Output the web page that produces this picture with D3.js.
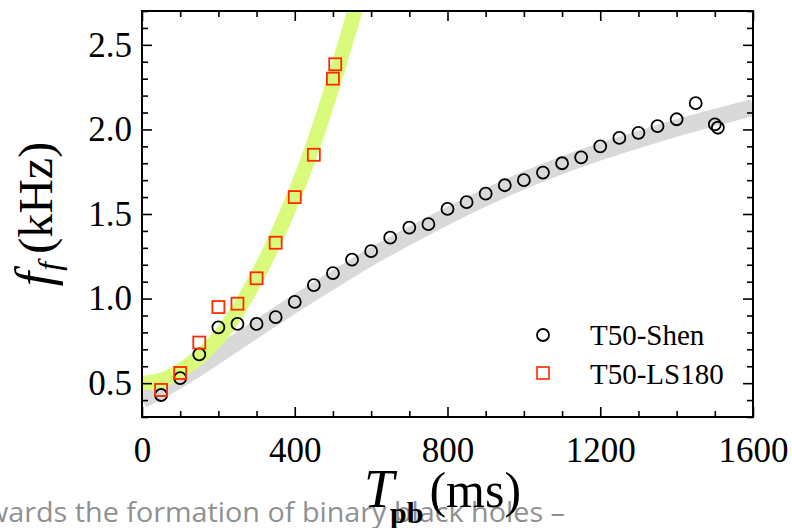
<!DOCTYPE html>
<meta charset="utf-8">
<script src="https://d3js.org/d3.v7.min.js"></script>
<style>
  body { margin: 0; background: #fff; }
  svg { display: block; }
</style>
<body>
<div id="my_dataviz"></div>
<script>

// T50-Shen (circles): post-bounce time (ms) and f_f (kHz)
var shenT = [50, 100, 150, 200, 250, 300, 350, 400, 450, 500, 550, 600, 650, 700, 750, 800, 850, 900, 950, 1000,
  1050, 1100, 1150, 1200, 1250, 1300, 1350, 1400, 1450, 1500, 1508];
var shenF = [0.43, 0.53, 0.67, 0.83, 0.85, 0.85, 0.89, 0.98, 1.08, 1.15, 1.23, 1.28, 1.36, 1.42, 1.44, 1.53, 1.57, 1.62, 1.67, 1.70,
  1.745, 1.80, 1.835, 1.90, 1.95, 1.98, 2.02, 2.06, 2.155, 2.03, 2.01];

// T50-LS180 (squares)
var lsT = [50, 100, 150, 200, 250, 300, 350, 400, 450, 500, 506];
var lsF = [0.46, 0.56, 0.74, 0.95, 0.97, 1.12, 1.33, 1.60, 1.85, 2.30, 2.385];

// fit bands
var greenBandT = [0, 50, 100, 150, 200, 250, 300, 350, 400, 450, 500, 560];
var greenBandF = [0.50, 0.51, 0.57, 0.65, 0.76, 0.92, 1.12, 1.35, 1.61, 1.91, 2.26, 2.72];
var grayBandT = [0, 100, 200, 300, 400, 500, 600, 700, 800, 900, 1000, 1100, 1200, 1300, 1400, 1500, 1600];
var grayBandF = [0.40, 0.52, 0.67, 0.82, 0.97, 1.11, 1.25, 1.37, 1.49, 1.60, 1.70, 1.79, 1.87, 1.94, 2.01, 2.07, 2.13];

var xTicks = [0, 400, 800, 1200, 1600];
var yTicks = [0.5, 1.0, 1.5, 2.0, 2.5];
var legendNames = ["T50-Shen", "T50-LS180"];

var margin = { top: 11, left: 142 },
  width = 611,
  height = 406;

var svg = d3.select("#my_dataviz")
  .append("svg")
  .attr("width", 792)
  .attr("height", 528);

svg.append("rect").attr("width", 792).attr("height", 528).attr("fill", "#fff");

// gray caption text from the slide behind the figure
svg.append("text")
  .attr("x", -14)
  .attr("y", 522)
  .attr("textLength", 579)
  .attr("lengthAdjust", "spacingAndGlyphs")
  .style("font-family", "'Open Sans', 'Noto Sans', sans-serif")
  .style("font-size", "28px")
  .attr("fill", "#909090")
  .text("wards the formation of binary black holes \u2013");

var g = svg.append("g")
  .attr("transform", "translate(" + margin.left + "," + margin.top + ")");

var x = d3.scaleLinear().domain([0, 1600]).range([0, width]);
var y = d3.scaleLinear().domain([0.3, 2.7]).range([height, 0]);

g.append("clipPath").attr("id", "clip")
  .append("rect").attr("width", width).attr("height", height);

var line = d3.line()
  .x(function (d) { return x(d[0]); })
  .y(function (d) { return y(d[1]); })
  .curve(d3.curveBasis);

var bands = g.append("g").attr("clip-path", "url(#clip)");
bands.append("path")
  .datum(grayBandT.map(function (t, i) { return [t, grayBandF[i]]; }))
  .attr("d", line)
  .attr("fill", "none")
  .attr("stroke", "#d9d9d9")
  .attr("stroke-width", 17);
bands.append("path")
  .datum(greenBandT.map(function (t, i) { return [t, greenBandF[i]]; }))
  .attr("d", line)
  .attr("fill", "none")
  .attr("stroke", "#d9fa7a")
  .attr("stroke-width", 15);

// circles
g.append("g")
  .selectAll("circle")
  .data(shenT.map(function (t, i) { return [t, shenF[i]]; }))
  .enter().append("circle")
  .attr("cx", function (d) { return x(d[0]); })
  .attr("cy", function (d) { return y(d[1]); })
  .attr("r", 6)
  .attr("fill", "none")
  .attr("stroke", "#000")
  .attr("stroke-width", 1.8);

// squares
var sq = 12;
g.append("g")
  .selectAll("rect")
  .data(lsT.map(function (t, i) { return [t, lsF[i]]; }))
  .enter().append("rect")
  .attr("x", function (d) { return x(d[0]) - sq / 2; })
  .attr("y", function (d) { return y(d[1]) - sq / 2; })
  .attr("width", sq)
  .attr("height", sq)
  .attr("fill", "none")
  .attr("stroke", "#ff2a00")
  .attr("stroke-width", 1.8);

// axes: ticks inside on all four sides
var xMinor = d3.range(0, 1601, 100).filter(function (v) { return v % 400 != 0; });
var yMinor = d3.range(3, 28).map(function (v) { return v / 10; }).filter(function (v) { return Math.round(v * 10) % 5 != 0; });

function styleAxis(sel) {
  sel.select(".domain").remove();
  sel.selectAll("line").attr("stroke", "#000").attr("stroke-width", 1.6);
  sel.selectAll("text")
    .style("font-family", "'Liberation Serif', 'Times New Roman', serif")
    .style("font-size", "35px")
    .attr("fill", "#000");
}

g.append("g").attr("transform", "translate(0," + height + ")")
  .call(d3.axisBottom(x).tickValues(xTicks).tickSize(-10).tickPadding(20).tickFormat(d3.format("d")))
  .call(styleAxis);
g.append("g").attr("transform", "translate(0," + height + ")")
  .call(d3.axisBottom(x).tickValues(xMinor).tickSize(-6).tickFormat(""))
  .call(styleAxis);
g.append("g")
  .call(d3.axisTop(x).tickValues(xTicks).tickSize(-10).tickFormat(""))
  .call(styleAxis);
g.append("g")
  .call(d3.axisTop(x).tickValues(xMinor).tickSize(-6).tickFormat(""))
  .call(styleAxis);

g.append("g")
  .call(d3.axisLeft(y).tickValues(yTicks).tickSize(-10).tickPadding(10).tickFormat(d3.format(".1f")))
  .call(styleAxis);
g.append("g")
  .call(d3.axisLeft(y).tickValues(yMinor).tickSize(-6).tickFormat(""))
  .call(styleAxis);
g.append("g").attr("transform", "translate(" + width + ",0)")
  .call(d3.axisRight(y).tickValues(yTicks).tickSize(-10).tickFormat(""))
  .call(styleAxis);
g.append("g").attr("transform", "translate(" + width + ",0)")
  .call(d3.axisRight(y).tickValues(yMinor).tickSize(-6).tickFormat(""))
  .call(styleAxis);

// frame
g.append("rect")
  .attr("width", width)
  .attr("height", height)
  .attr("fill", "none")
  .attr("stroke", "#000")
  .attr("stroke-width", 2);

// legend
var legend = g.append("g").attr("transform", "translate(401,324)");
legend.append("circle").attr("cx", 0).attr("cy", 0).attr("r", 6)
  .attr("fill", "none").attr("stroke", "#000").attr("stroke-width", 1.8);
legend.append("rect").attr("x", -6).attr("y", 32).attr("width", 12).attr("height", 12)
  .attr("fill", "none").attr("stroke", "#ff2a00").attr("stroke-width", 1.6);
legend.selectAll("text")
  .data(legendNames)
  .enter().append("text")
  .attr("x", 47)
  .attr("y", function (d, i) { return 10 + i * 39; })
  .style("font-family", "'Liberation Serif', 'Times New Roman', serif")
  .style("font-size", "29px")
  .text(function (d) { return d; });

// y label
var ylab = svg.append("text")
  .attr("transform", "translate(52,214) rotate(-90)")
  .attr("text-anchor", "middle")
  .style("font-family", "'Liberation Serif', 'Times New Roman', serif")
  .attr("fill", "#000");
ylab.append("tspan").style("font-style", "italic").style("font-size", "52px").text("f");
ylab.append("tspan").style("font-style", "italic").style("font-size", "32px").attr("dy", 8).attr("dx", 1).text("f");
ylab.append("tspan").style("font-size", "48px").attr("dy", -8).attr("dx", 8).text("(kHz)");

// x label
var xlab = svg.append("text")
  .attr("x", 364)
  .attr("y", 507)
  .style("font-family", "'Liberation Serif', 'Times New Roman', serif")
  .attr("fill", "#000");
xlab.append("tspan").style("font-style", "italic").style("font-size", "54px").text("T");
xlab.append("tspan").style("font-weight", "bold").style("font-size", "30px").attr("dy", 16).attr("dx", -4).text("pb");
xlab.append("tspan").style("font-size", "50px").attr("dy", -16).attr("dx", 6).text("(ms)");

</script>
</body>
